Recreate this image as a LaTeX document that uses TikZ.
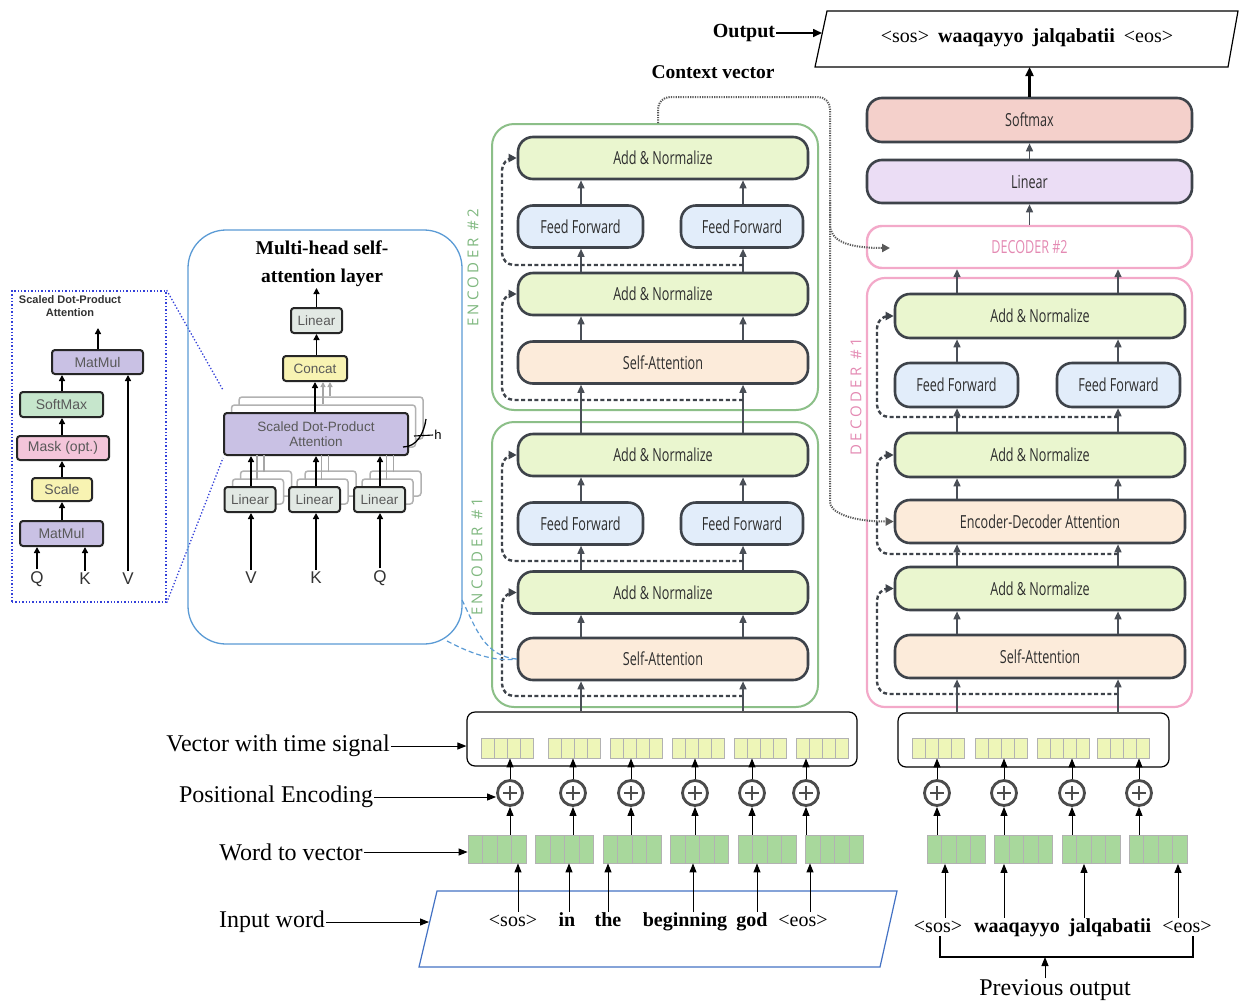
\documentclass[tikz,border=0pt]{standalone}
\usepackage{fontspec}
\setmainfont{Liberation Serif}
\newfontfamily\blkfont[FakeStretch=0.7]{Open Sans}
\newfontfamily\hsans{Liberation Sans}
\newfontfamily\spfont[LetterSpace=22]{Open Sans}
\usetikzlibrary{arrows.meta,calc}
\definecolor{bord}{HTML}{3E434A}
\definecolor{anfill}{HTML}{EAF6CF}
\definecolor{fffill}{HTML}{E2EDFA}
\definecolor{safill}{HTML}{FCEBDA}
\definecolor{smfill}{HTML}{F4D0CB}
\definecolor{lnfill}{HTML}{EBDDF5}
\definecolor{encg}{HTML}{8CBF88}
\definecolor{encgt}{HTML}{7FB87F}
\definecolor{decp}{HTML}{F3A9C9}
\definecolor{decpt}{HTML}{E48AB3}
\definecolor{vecy}{HTML}{EEF6B8}
\definecolor{vecg}{HTML}{A8D89C}
\definecolor{lav}{HTML}{C9C1E4}
\definecolor{sgreen}{HTML}{C6E6CC}
\definecolor{spink}{HTML}{F4C5DA}
\definecolor{syel}{HTML}{F8F3B2}
\definecolor{lgray}{HTML}{E2E9E4}
\definecolor{mhblue}{HTML}{5B9BD5}
\definecolor{dblue}{HTML}{3340D9}
\definecolor{pblue}{HTML}{4472C4}
\definecolor{arr}{HTML}{4A4F57}
\begin{document}
\begin{tikzpicture}[x=1pt,y=-1pt,
 blk/.style={draw=bord,line width=2.6pt,rounded corners=15pt,font=\blkfont\fontsize{18}{20}\selectfont,text=black!82,inner sep=0pt},
 anb/.style={blk,fill=anfill,minimum height=42pt},
 ffb/.style={blk,fill=fffill,minimum height=42pt},
 sab/.style={blk,fill=safill,minimum height=42pt},
 encbox/.style={draw=encg,line width=2pt,rounded corners=22pt,inner sep=0pt},
 decbox/.style={draw=decp,line width=2.2pt,rounded corners=18pt,inner sep=0pt},
 garr/.style={draw=arr,line width=1.5pt,-{Triangle[length=8pt,width=7pt]}},
 resid/.style={draw=bord,line width=2.4pt,dash pattern=on 4pt off 2.6pt,rounded corners=12pt,-{Triangle[length=8pt,width=8pt]}},
 ctx/.style={draw=black!65,line width=2pt,dash pattern=on 1.2pt off 1.2pt,rounded corners=12pt},
 barr/.style={draw=black,line width=1pt,-{Triangle[length=9pt,width=7pt]}},
 sarr/.style={draw=black,line width=1.8pt,-{Triangle[length=6pt,width=6pt]}},
 lbl/.style={font=\fontsize{24}{26}\selectfont,inner sep=1pt},
 wd/.style={font=\fontsize{20}{22}\selectfont,inner sep=0pt,text height=14pt,text depth=4pt},
 wdb/.style={wd,font=\bfseries\fontsize{20}{22}\selectfont},
 lbox/.style={draw=black!85,line width=2pt,rounded corners=3pt,font=\hsans\fontsize{14}{16}\selectfont,text=black!65,inner sep=0pt},
 sbox/.style={draw=black!85,line width=2pt,rounded corners=3pt,font=\hsans\fontsize{13.5}{15}\selectfont,text=black!65,inner sep=0pt},
 shad/.style={draw=black!30,line width=1.5pt,fill=white,rounded corners=3pt,inner sep=0pt},
 qkv/.style={font=\hsans\fontsize{17}{18}\selectfont,text=black!80,inner sep=2pt},
 vcells/.style={draw=black!30,line width=0.8pt,inner sep=0pt,path picture={\foreach \k in {1,2,3}{\draw[black!30,line width=0.8pt] ($(path picture bounding box.south west)!\k/4!(path picture bounding box.south east)$) -- ($(path picture bounding box.north west)!\k/4!(path picture bounding box.north east)$);}}},
 yv/.style={vcells,fill=vecy,minimum width=52pt,minimum height=20pt},
 gv/.style={vcells,fill=vecg,minimum width=58pt,minimum height=28pt},
 pls/.style={circle,draw=black!70,line width=2.8pt,minimum size=25pt,fill=white,inner sep=0pt,path picture={\draw[black!70,line width=2.8pt] ([xshift=-7pt]path picture bounding box.center) -- ([xshift=7pt]path picture bounding box.center) ([yshift=-7pt]path picture bounding box.center) -- ([yshift=7pt]path picture bounding box.center);}},
 spl/.style={font=\spfont\fontsize{15}{15}\selectfont,rotate=90,inner sep=0pt}
]
\fill[white] (0,0) rectangle (1239,1007);
\useasboundingbox (0,0) rectangle (1239,1007);

% ================= Scaled dot-product (left) =================
\node[draw=dblue,dotted,line width=1.4pt,minimum width=154pt,minimum height=311pt,inner sep=0pt] (sdbox) at (89,446.5) {};
\node[font=\hsans\bfseries\fontsize{11}{12.5}\selectfont,align=center,text=black!80] (sdtitle) at (70,306) {Scaled Dot-Product\\Attention};
\node[lbox,fill=lav,minimum width=91pt,minimum height=24pt] (mm1) at (97.5,362) {MatMul};
\node[lbox,fill=sgreen,minimum width=83pt,minimum height=25pt] (smx) at (61.5,404.5) {SoftMax};
\node[lbox,fill=spink,minimum width=92pt,minimum height=24pt] (msk) at (63,448) {Mask (opt.)};
\node[lbox,fill=syel,minimum width=60pt,minimum height=23pt] (scl) at (62,489.5) {Scale};
\node[lbox,fill=lav,minimum width=83pt,minimum height=25pt] (mm2) at (61.5,533.5) {MatMul};
\node[qkv] (lq) at (37,579) {Q};
\node[qkv] (lk) at (85,579) {K};
\node[qkv] (lv) at (128,579) {V};
\coordinate (lx) at (62,0);
\coordinate (mm1out) at (98,328);
\draw[sarr] (lq.north) -- (lq.north |- mm2.south);
\draw[sarr] (lk.north) -- (lk.north |- mm2.south);
\draw[sarr] (lv.north) -- (lv.north |- mm1.south);
\draw[sarr] (mm2.north -| lx) -- (scl.south -| lx);
\draw[sarr] (scl.north -| lx) -- (msk.south -| lx);
\draw[sarr] (msk.north -| lx) -- (smx.south -| lx);
\draw[sarr] (smx.north -| lx) -- (mm1.south -| lx);
\draw[sarr] (mm1.north -| mm1out) -- (mm1out);
\coordinate (mhT) at (223,390);
\coordinate (mhL) at (223,458);
\draw[dblue,dotted,line width=1.3pt] (sdbox.north east) -- (mhT);
\draw[dblue,dotted,line width=1.3pt] (sdbox.south east) -- (mhL);

% ================= Multi-head =================
\node[draw=mhblue,line width=1.3pt,rounded corners=38pt,minimum width=274pt,minimum height=414pt,inner sep=0pt] (mhbox) at (325,437) {};
\node[font=\bfseries\fontsize{19.5}{28}\selectfont,align=center] (mhtitle) at (322,264) {Multi-head self-\\attention layer};
\node[sbox,fill=lgray,minimum width=51pt,minimum height=25pt] (mlin) at (316.5,320.5) {Linear};
\node[sbox,fill=syel,minimum width=64pt,minimum height=25pt] (mcat) at (315,368.5) {Concat};
\node[shad,minimum width=184pt,minimum height=42pt] (msdS2) at (331,418) {};
\node[shad,minimum width=184pt,minimum height=42pt] (msdS1) at (323.5,426) {};
\draw[draw=black!35,line width=1.3pt,-{Triangle[length=5pt,width=5pt]}] (msdS1.north -| 323,0) -- (mcat.south -| 323,0);
\draw[draw=black!35,line width=1.3pt,-{Triangle[length=5pt,width=5pt]}] (msdS2.north -| 330,0) -- (mcat.south -| 330,0);
\node[sbox,fill=lav,minimum width=184pt,minimum height=42pt,align=center] (msd) at (316,434) {Scaled Dot-Product\\Attention};
\foreach \cx/\nm in {250/ml1,314.5/ml2,379.5/ml3}{
  \node[shad,minimum width=51pt,minimum height=25pt] at (\cx+16,483.5) {};
  \node[shad,minimum width=51pt,minimum height=25pt] at (\cx+8,491.5) {};
  \draw[black!35,line width=1.3pt] (\cx+7,480) -- (\cx+7,455);
  \draw[black!35,line width=1.3pt] (\cx+14,472) -- (\cx+14,455);
  \node[sbox,fill=lgray,minimum width=51pt,minimum height=25pt] (\nm) at (\cx,499.5) {Linear};
}
\node[qkv] (mV) at (251,578) {V};
\node[qkv] (mK) at (316,578) {K};
\node[qkv] (mQ) at (380,578) {Q};
\draw[sarr] (mV.north) -- (mV.north |- ml1.south);
\draw[sarr] (mK.north) -- (mK.north |- ml2.south);
\draw[sarr] (mQ.north) -- (mQ.north |- ml3.south);
\draw[sarr] (ml1.north -| mV) -- (msd.south -| mV);
\draw[sarr] (ml2.north -| mK) -- (msd.south -| mK);
\draw[sarr] (ml3.north -| mQ) -- (msd.south -| mQ);
\draw[sarr] (msd.north -| mcat) -- (mcat.south);
\draw[sarr] (mcat.north -| mlin) -- (mlin.south);
\coordinate (mhout) at (316.5,288);
\draw[sarr] (mlin.north) -- (mhout);
\draw[black,line width=1.3pt] (403,447) .. controls (417,447) and (424,433) .. (426,419);
\node[font=\hsans\fontsize{13}{14}\selectfont,inner sep=1pt] (hlab) at (438,435) {h};
\draw[black,line width=1.1pt] (414,436) -- (hlab.west);

% ================= Encoders =================
\node[encbox,minimum width=326pt,minimum height=286pt] (enc2) at (655,267) {};
\node[encbox,minimum width=326pt,minimum height=285pt] (enc1) at (655,564.5) {};
\node[spl,text=encgt] (enc2lab) at (473,268) {ENCODER \#2};
\node[spl,text=encgt] (enc1lab) at (477,557) {ENCODER \#1};

\node[anb,minimum width=290pt] (e2an1) at (663,158) {Add \& Normalize};
\node[ffb,minimum width=125pt] (e2ffL) at (580.5,226.5) {Feed Forward};
\node[ffb,minimum width=122pt] (e2ffR) at (742,226.5) {Feed Forward};
\node[anb,minimum width=290pt] (e2an2) at (663,294) {Add \& Normalize};
\node[sab,minimum width=290pt] (e2sa) at (663,362.5) {Self-Attention};

\node[anb,minimum width=290pt] (e1an1) at (663,455) {Add \& Normalize};
\node[ffb,minimum width=125pt] (e1ffL) at (580.5,523.5) {Feed Forward};
\node[ffb,minimum width=122pt] (e1ffR) at (742,523.5) {Feed Forward};
\node[anb,minimum width=290pt] (e1an2) at (663,592.5) {Add \& Normalize};
\node[sab,minimum width=290pt] (e1sa) at (663,659) {Self-Attention};

\coordinate (cL) at (581,0);
\coordinate (cR) at (743,0);
\foreach \c in {cL,cR}{
  \draw[garr] (e1sa.north -| \c) -- (e1an2.south -| \c);
  \draw[garr] (e1an1.north -| \c) -- (e2sa.south -| \c);
  \draw[garr] (e2sa.north -| \c) -- (e2an2.south -| \c);
}
\draw[garr] (e1an2.north -| cL) -- (e1ffL.south -| cL);
\draw[garr] (e1an2.north -| cR) -- (e1ffR.south -| cR);
\draw[garr] (e1ffL.north -| cL) -- (e1an1.south -| cL);
\draw[garr] (e1ffR.north -| cR) -- (e1an1.south -| cR);
\draw[garr] (e2an2.north -| cL) -- (e2ffL.south -| cL);
\draw[garr] (e2an2.north -| cR) -- (e2ffR.south -| cR);
\draw[garr] (e2ffL.north -| cL) -- (e2an1.south -| cL);
\draw[garr] (e2ffR.north -| cR) -- (e2an1.south -| cR);

\draw[resid] (743,265) -- (502,265) -- (502,158) -- (e2an1.west);
\draw[resid] (743,400) -- (502,400) -- (502,294) -- (e2an2.west);
\draw[resid] (743,561) -- (502,561) -- (502,455) -- (e1an1.west);
\draw[resid] (743,696) -- (502,696) -- (502,592.5) -- (e1an2.west);

% dashed blue from multi-head box
\coordinate (mhA) at (462,600);
\coordinate (mhB) at (447,641);
\draw[mhblue,dash pattern=on 5pt off 3pt,line width=1.2pt] (mhA) .. controls (476,628) and (484,656) .. (e1sa.west);
\draw[mhblue,dash pattern=on 5pt off 3pt,line width=1.2pt] (mhB) .. controls (468,652) and (492,662) .. (e1sa.west);

% ================= Decoder =================
\node[decbox,minimum width=325pt,minimum height=429pt] (dec1) at (1029.5,492.5) {};
\node[spl,text=decpt] (dec1lab) at (856,397) {DECODER \#1};
\node[anb,minimum width=290pt,minimum height=44pt] (dan1) at (1040,316) {Add \& Normalize};
\node[ffb,minimum width=123pt,minimum height=44pt] (dffL) at (956.5,385) {Feed Forward};
\node[ffb,minimum width=123pt,minimum height=44pt] (dffR) at (1118.5,385) {Feed Forward};
\node[anb,minimum width=290pt,minimum height=44pt] (dan2) at (1040,455) {Add \& Normalize};
\node[sab,minimum width=290pt,minimum height=43pt] (ded) at (1040,521.5) {Encoder-Decoder Attention};
\node[anb,minimum width=290pt,minimum height=43pt] (dan3) at (1040,588.5) {Add \& Normalize};
\node[sab,minimum width=290pt,minimum height=43pt] (dsa) at (1040,656.5) {Self-Attention};

\node[draw=decp,line width=2.4pt,rounded corners=15pt,fill=white,minimum width=325pt,minimum height=42pt,inner sep=0pt,font=\blkfont\fontsize{18}{20}\selectfont,text=decpt] (dec2) at (1029.5,247) {DECODER \#2};
\node[blk,fill=lnfill,minimum width=325pt,minimum height=43pt] (lin) at (1029.5,181.5) {Linear};
\node[blk,fill=smfill,minimum width=325pt,minimum height=44pt] (smax) at (1029.5,120) {Softmax};

\coordinate (dL) at (957,0);
\coordinate (dR) at (1118,0);
\foreach \c in {dL,dR}{
  \draw[garr] (dsa.north -| \c) -- (dan3.south -| \c);
  \draw[garr] (dan3.north -| \c) -- (ded.south -| \c);
  \draw[garr] (ded.north -| \c) -- (dan2.south -| \c);
  \draw[garr] (dan1.north -| \c) -- (dec2.south -| \c);
}
\draw[garr] (dan2.north -| dL) -- (dffL.south -| dL);
\draw[garr] (dan2.north -| dR) -- (dffR.south -| dR);
\draw[garr] (dffL.north -| dL) -- (dan1.south -| dL);
\draw[garr] (dffR.north -| dR) -- (dan1.south -| dR);
\draw[garr] (dec2.north) -- (lin.south);
\draw[garr] (lin.north) -- (smax.south);

\draw[resid] (1118,417) -- (877,417) -- (877,316) -- (dan1.west);
\draw[resid] (1118,554) -- (877,554) -- (877,455) -- (dan2.west);
\draw[resid] (1118,694) -- (877,694) -- (877,588.5) -- (dan3.west);

% context vector
\coordinate (cvs) at (658,0);
\coordinate (cvtip) at (890,248);
\draw[ctx,-{Triangle[length=8pt,width=8pt]}] (enc2.north -| cvs) -- (658,97) -- (830,97) -- (830,212) .. controls (830,240) and (845,248) .. (cvtip);
\draw[ctx,-{Triangle[length=8pt,width=8pt]}] (830,200) -- (830,490) .. controls (830,512) and (850,521.5) .. (ded.west);
\node[font=\bfseries\fontsize{19.5}{22}\selectfont,inner sep=1pt] (cvlab) at (713,72) {Context vector};

% output
\draw[black,line width=1.2pt] (827,11) -- (1238,11) -- (1228,67) -- (815,67) -- cycle;
\node[font=\fontsize{20}{22}\selectfont,inner sep=0pt] (outtxt) at (1027,38) {<sos>\hspace{9pt}\textbf{waaqayyo}\hspace{9pt}\textbf{jalqabatii}\hspace{9pt}<eos>};
\coordinate (outbot) at (1029.5,67);
\draw[black,line width=2.2pt,-{Triangle[length=9pt,width=8pt]}] (smax.north) -- (outbot);
\node[font=\bfseries\fontsize{20}{22}\selectfont,inner sep=1pt] (outlab) at (744,33) {Output};
\coordinate (outleft) at (822,33);
\draw[black,line width=1.6pt,-{Triangle[length=9pt,width=8pt]}] (outlab.east) -- (outleft);

% ================= Encoder inputs =================
\node[draw=black,line width=1.2pt,rounded corners=8pt,minimum width=390pt,minimum height=54pt,inner sep=0pt] (inbox) at (662,739) {};
\foreach \c in {cL,cR}{\draw[garr] (inbox.north -| \c) -- (e1sa.south -| \c);}
\foreach \i/\yx/\px/\gx in {1/507.5/510/497,2/574/573/564.5,3/636/631/632,4/698/695/699.5,5/760.5/752/767,6/822.5/806/834.5}{
  \node[yv] (ey\i) at (\yx,748) {};
  \node[pls] (ep\i) at (\px,793) {};
  \node[gv] (eg\i) at (\gx,849) {};
  \draw[barr] (eg\i.north -| ep\i) -- (ep\i.south);
  \draw[barr] (ep\i.north) -- (ey\i.south -| ep\i);
}
\draw[pblue,line width=1.2pt] (437,891) -- (897,891) -- (880,967) -- (419,967) -- cycle;
\node[wd] (w1) at (513,921) {<sos>};
\node[wdb] (w2) at (567,921) {in};
\node[wdb] (w3) at (608,921) {the};
\node[wdb] (w4) at (685,921) {beginning};
\node[wdb] (w5) at (752,921) {god};
\node[wd] (w6) at (803,921) {<eos>};
\draw[barr] ([xshift=5pt]w1.north) -- ([xshift=5pt]w1.north |- eg1.south);
\draw[barr] ([xshift=2pt]w2.north) -- ([xshift=2pt]w2.north |- eg2.south);
\draw[barr] (w3.north) -- (w3.north |- eg3.south);
\draw[barr] ([xshift=8pt]w4.north) -- ([xshift=8pt]w4.north |- eg4.south);
\draw[barr] ([xshift=5pt]w5.north) -- ([xshift=5pt]w5.north |- eg5.south);
\draw[barr] ([xshift=7pt]w6.north) -- ([xshift=7pt]w6.north |- eg6.south);

% left labels
\node[lbl] (lvt) at (278,746) {Vector with time signal};
\node[lbl] (lpe) at (276,797) {Positional Encoding};
\node[lbl] (lwv) at (291,852) {Word to vector};
\node[lbl] (liw) at (272,922) {Input word};
\draw[barr] (lvt.east) -- (inbox.west |- lvt.east);
\draw[barr] (lpe.east) -- (ep1.west |- lpe.east);
\draw[barr] (lwv.east) -- (eg1.west |- lwv.east);
\coordinate (inl) at (429,922);
\draw[barr] (liw.east) -- (inl);

% ================= Decoder inputs =================
\node[draw=black,line width=1.2pt,rounded corners=8pt,minimum width=271pt,minimum height=54pt,inner sep=0pt] (inbox2) at (1033.5,740) {};
\foreach \c in {dL,dR}{\draw[garr] (inbox2.north -| \c) -- (dsa.south -| \c);}
\foreach \i/\yx/\px/\gx in {1/938.5/937/956,2/1001/1004/1023.5,3/1063/1072/1091,4/1123/1139/1158}{
  \node[yv] (dy\i) at (\yx,748) {};
  \node[pls] (dp\i) at (\px,793) {};
  \node[gv] (dg\i) at (\gx,849.5) {};
  \draw[barr] (dg\i.north -| dp\i) -- (dp\i.south);
  \draw[barr] (dp\i.north) -- (dy\i.south -| dp\i);
}
\node[wd] (dw1) at (938,927) {<sos>};
\node[wdb] (dw2) at (1017,927) {waaqayyo};
\node[wdb] (dw3) at (1110,927) {jalqabatii};
\node[wd] (dw4) at (1187,927) {<eos>};
\draw[barr] ([xshift=7pt]dw1.north) -- ([xshift=7pt]dw1.north |- dg1.south);
\draw[barr] ([xshift=-13pt]dw2.north) -- ([xshift=-13pt]dw2.north |- dg2.south);
\draw[barr] ([xshift=-26pt]dw3.north) -- ([xshift=-26pt]dw3.north |- dg3.south);
\draw[barr] ([xshift=-9pt]dw4.north) -- ([xshift=-9pt]dw4.north |- dg4.south);
\coordinate (brk) at (1045,957);
\draw[black,line width=1.8pt] ([xshift=2pt]dw1.south) |- (brk) -| ([xshift=6pt]dw4.south);
\node[lbl] (prev) at (1055,990) {Previous output};
\draw[barr] (prev.north -| brk) -- (brk);
\end{tikzpicture}
\end{document}
